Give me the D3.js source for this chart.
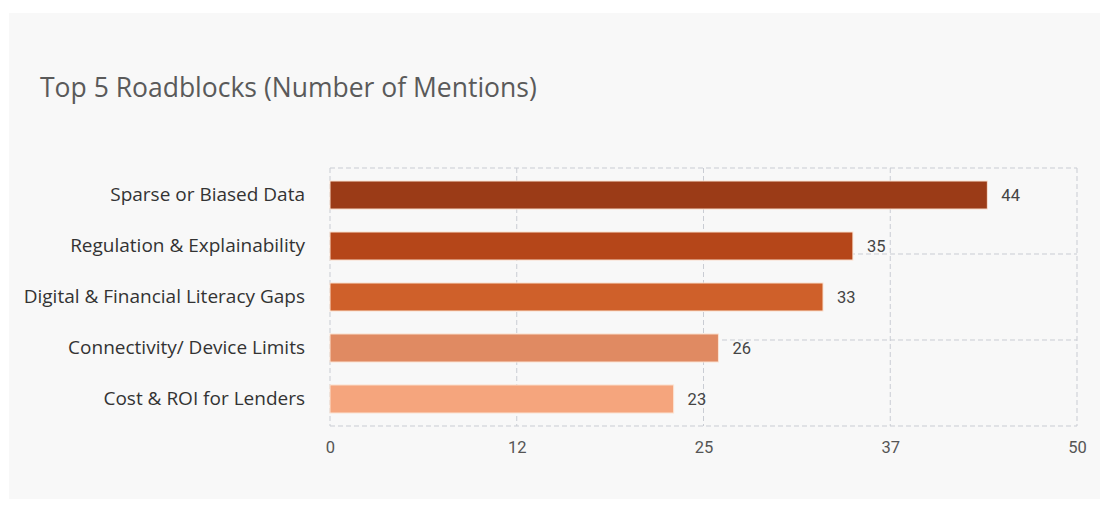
<!DOCTYPE html>
<html>
<head>
<meta charset="utf-8">
<script src="https://cdn.jsdelivr.net/npm/d3@7"></script>
<style>
  body { margin: 0; background: #ffffff; }
  svg { display: block; }
</style>
</head>
<body>
<div id="chart"></div>
<script>
// chart data
var categories = ["Sparse or Biased Data", "Regulation & Explainability", "Digital & Financial Literacy Gaps", "Connectivity/ Device Limits", "Cost & ROI for Lenders"];
var mentions = [44, 35, 33, 26, 23];
var barColors = ["#9b3b17", "#b54619", "#cf602a", "#e08a62", "#f5a57d"];
var xTicks = [0, 12.5, 25, 37.5, 50];
var titleText = "Top 5 Roadblocks (Number of Mentions)";

var width = 1100, height = 505;
var margin = {top: 168, right: 23, bottom: 79, left: 330};

var svg = d3.select("#chart").append("svg")
	.attr("width", width)
	.attr("height", height);

// panel background
svg.append("rect")
	.attr("x", 9).attr("y", 13)
	.attr("width", width - 9).attr("height", height - 13 - 6)
	.attr("fill", "#f8f8f8");

svg.append("text")
	.attr("x", 40).attr("y", 97)
	.attr("font-family", "'Open Sans', sans-serif")
	.attr("font-size", "26.5px")
	.attr("fill", "#5a5a5a")
	.text(titleText);

var x_scale = d3.scaleLinear()
	.domain([0, 50])
	.range([margin.left, width - margin.right]);

var y_scale = d3.scaleBand()
	.domain(categories)
	.range([margin.top, height - margin.bottom])
	.paddingInner(0.45)
	.paddingOuter(0.255);

var y0 = margin.top, y1 = height - margin.bottom;

// grid
var grid = svg.append("g").attr("class", "grid")
	.attr("stroke", "#c9ccd3")
	.attr("stroke-width", 1)
	.attr("stroke-dasharray", "5,3");
grid.selectAll("line.v")
	.data(xTicks)
	.enter()
	.append("line")
	.attr("class", "v")
	.attr("x1", function(d) { return x_scale(d); })
	.attr("x2", function(d) { return x_scale(d); })
	.attr("y1", y0)
	.attr("y2", y1);
grid.selectAll("line.h")
	.data([0, 1, 2, 3])
	.enter()
	.append("line")
	.attr("class", "h")
	.attr("x1", x_scale(0))
	.attr("x2", x_scale(50))
	.attr("y1", function(d) { return y0 + (y1 - y0) * d / 3; })
	.attr("y2", function(d) { return y0 + (y1 - y0) * d / 3; });

// bars
svg.append("g").selectAll("rect")
	.data(mentions)
	.enter()
	.append("rect")
	.attr("x", x_scale(0))
	.attr("y", function(d, i) { return y_scale(categories[i]); })
	.attr("width", function(d) { return x_scale(d) - x_scale(0); })
	.attr("height", y_scale.bandwidth())
	.attr("fill", function(d, i) { return barColors[i]; })
	.attr("stroke", "#fbe3d3")
	.attr("stroke-width", 1);

// value labels
svg.append("g").selectAll("text")
	.data(mentions)
	.enter()
	.append("text")
	.attr("x", function(d) { return x_scale(d) + 14; })
	.attr("y", function(d, i) { return y_scale(categories[i]) + y_scale.bandwidth() / 2; })
	.attr("dy", "0.35em")
	.attr("font-family", "Roboto, sans-serif")
	.attr("font-size", "16.5px")
	.attr("fill", "#444")
	.text(function(d) { return d; });

// y axis labels
var yAxis = d3.axisLeft(y_scale).tickSize(0).tickPadding(25);
var gy = svg.append("g")
	.attr("transform", "translate(" + margin.left + ",0)")
	.call(yAxis);
gy.select(".domain").remove();
gy.selectAll("text")
	.attr("font-family", "'Open Sans', sans-serif")
	.attr("font-size", "19px")
	.attr("fill", "#333");

// x axis labels
var xAxis = d3.axisBottom(x_scale)
	.tickValues(xTicks)
	.tickSize(0)
	.tickPadding(15)
	.tickFormat(function(d) { return Math.floor(d); });
var gx = svg.append("g")
	.attr("transform", "translate(0," + y1 + ")")
	.call(xAxis);
gx.select(".domain").remove();
gx.selectAll("text")
	.attr("font-family", "Roboto, sans-serif")
	.attr("font-size", "16.5px")
	.attr("fill", "#555");
</script>
</body>
</html>
